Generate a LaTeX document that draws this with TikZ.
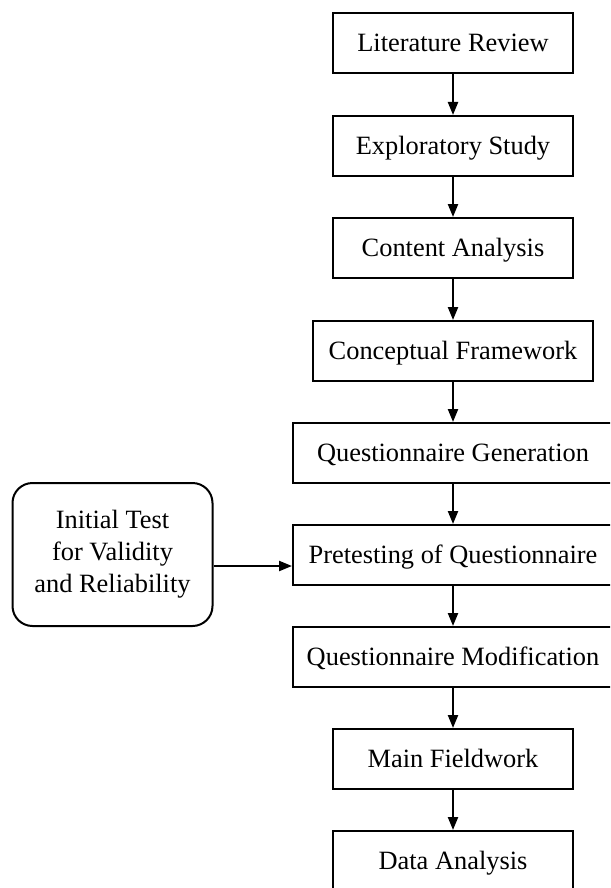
\documentclass[tikz,border=0pt]{standalone}
\usepackage{fontspec}
\setmainfont{Liberation Serif}
\usetikzlibrary{arrows.meta}

\tikzset{
  stepbox/.style={draw, line width=2pt, rectangle, inner sep=0pt,
    minimum height=60pt, text height=19pt, text depth=1.5pt,
    font=\fontsize{26.4}{32}\selectfont},
  narrowbox/.style={stepbox, minimum width=240pt},
  midbox/.style={stepbox, minimum width=280pt},
  widebox/.style={stepbox, minimum width=320pt},
  sidebox/.style={draw, line width=2pt, rounded corners=20pt, inner sep=0pt,
    minimum width=200pt, minimum height=143pt, align=center,
    font=\fontsize{26.4}{32}\selectfont},
  flow/.style={line width=2.2pt, -{Triangle[length=13pt,width=10pt]}}
}

\begin{document}
\begin{tikzpicture}[x=1pt, y=-1pt]
  \path[use as bounding box, clip] (0,0) rectangle (610,888);

  % main sequence of steps
  \node[narrowbox] (lit)  at (453,43)  {Literature Review};
  \node[narrowbox] (exp)  at (453,146) {Exploratory Study};
  \node[narrowbox] (con)  at (453,248) {Content Analysis};
  \node[midbox]    (fw)   at (453,351) {Conceptual Framework};
  \node[widebox]   (gen)  at (453,453) {Questionnaire Generation};
  \node[widebox]   (pre)  at (453,555) {Pretesting of Questionnaire};
  \node[widebox]   (mod)  at (453,657) {Questionnaire Modification};
  \node[narrowbox] (main) at (453,759) {Main Fieldwork};
  \node[narrowbox] (data) at (453,861) {Data Analysis};

  % side input
  \node[sidebox] (init) at (112.5,554.5) {Initial Test\\for Validity\\and Reliability};

  % connectors
  \draw[flow] (lit)  -- (exp);
  \draw[flow] (exp)  -- (con);
  \draw[flow] (con)  -- (fw);
  \draw[flow] (fw)   -- (gen);
  \draw[flow] (gen)  -- (pre);
  \draw[flow] (pre)  -- (mod);
  \draw[flow] (mod)  -- (main);
  \draw[flow] (main) -- (data);
  \draw[flow] ([yshift=-11.5pt]init.east) -- ([yshift=-11.5pt]init.east -| pre.west);
\end{tikzpicture}
\end{document}
